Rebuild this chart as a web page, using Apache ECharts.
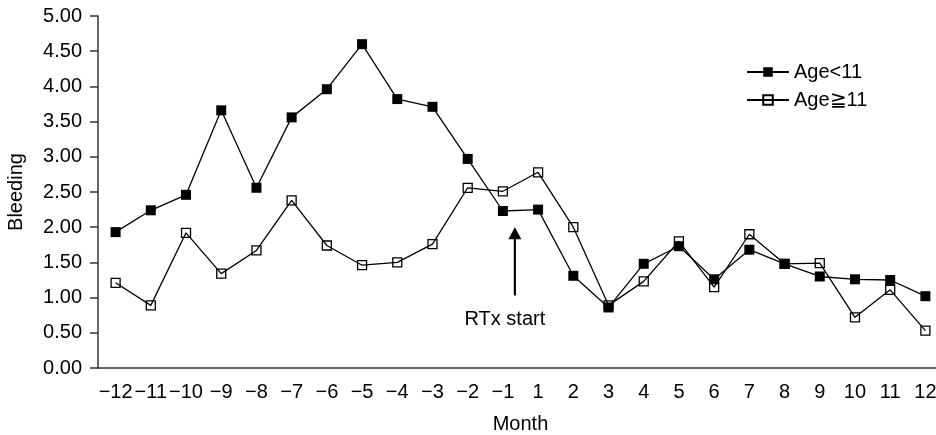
<!DOCTYPE html>
<html>
<head>
<meta charset="utf-8">
<script src="https://cdn.jsdelivr.net/npm/echarts@6/dist/echarts.min.js"></script>
<style>
    html, body {margin: 0; padding: 0; background: #fff;}
    #chart {width: 936px; height: 435px;}
</style>
</head>
<body>
<div id="chart"></div>
<script>
// 月份（治疗前 -12..-1，治疗后 1..12）
var months = ['\u221212', '\u221211', '\u221210', '\u22129', '\u22128', '\u22127', '\u22126', '\u22125', '\u22124', '\u22123', '\u22122', '\u22121',
    '1', '2', '3', '4', '5', '6', '7', '8', '9', '10', '11', '12'];
var ageUnder11 = [1.93, 2.24, 2.46, 3.66, 2.56, 3.56, 3.96, 4.60, 3.82, 3.71, 2.97, 2.23,
    2.25, 1.31, 0.86, 1.48, 1.73, 1.26, 1.68, 1.48, 1.30, 1.26, 1.25, 1.02];
var ageOver11 = [1.21, 0.89, 1.92, 1.34, 1.67, 2.38, 1.74, 1.46, 1.50, 1.76, 2.56, 2.51,
    2.78, 2.00, 0.89, 1.23, 1.80, 1.15, 1.90, 1.48, 1.49, 0.72, 1.11, 0.53];
var yTicks = [0, 5, 0.5];  // min, max, interval
var arrowFrom = 1.03, arrowTo = 2.0, arrowLabelAt = 0.69;

var fontName = 'Liberation Sans, Arial, sans-serif';
var chart = echarts.init(document.getElementById('chart'));

var option = {
    animation: false,
    textStyle: {fontFamily: fontName},
    grid: {
        left: 98,
        top: 16,
        width: 845,
        height: 352,
        outerBoundsMode: 'none'
    },
    legend: {
        left: 741,
        top: 57,
        orient: 'vertical',
        itemWidth: 42,
        itemHeight: 12,
        itemGap: 8,
        textStyle: {fontSize: 20, color: '#000', fontFamily: fontName},
        data: ['Age<11', 'Age\u226711']
    },
    xAxis: {
        type: 'category',
        data: months,
        boundaryGap: true,
        name: 'Month',
        nameLocation: 'middle',
        nameGap: 46,
        nameTextStyle: {fontSize: 20, color: '#000'},
        axisLine: {lineStyle: {color: '#333', width: 1.5}},
        axisTick: {length: 8, lineStyle: {color: '#333', width: 1.5}},
        axisLabel: {fontSize: 20, color: '#000', margin: 14, interval: 0}
    },
    yAxis: {
        type: 'value',
        min: yTicks[0],
        max: yTicks[1],
        interval: yTicks[2],
        name: 'Bleeding',
        nameLocation: 'middle',
        nameGap: 72,
        nameTextStyle: {fontSize: 20, color: '#000'},
        splitLine: {show: false},
        axisLine: {show: true, lineStyle: {color: '#333', width: 1.5}},
        axisTick: {show: true, length: 8, lineStyle: {color: '#333', width: 1.5}},
        axisLabel: {
            fontSize: 20, color: '#000', margin: 16,
            formatter: function (v) { return v.toFixed(2); }
        }
    },
    series: [{
        name: 'Age<11',
        type: 'line',
        data: ageUnder11,
        symbol: 'rect',
        symbolSize: 10,
        z: 3,
        lineStyle: {color: '#000', width: 1.3},
        itemStyle: {color: '#000', borderColor: '#000', borderWidth: 0}
    }, {
        name: 'Age\u226711',
        type: 'line',
        data: ageOver11,
        symbol: 'rect',
        symbolSize: 9,
        z: 2,
        lineStyle: {color: '#000', width: 1.3},
        itemStyle: {color: 'rgba(255,255,255,0)', borderColor: '#000', borderWidth: 1.3}
    }]
};
chart.setOption(option);

// 箭头标注 RTx start
var xa = chart.convertToPixel({xAxisIndex: 0}, '\u22121');
var xb = chart.convertToPixel({xAxisIndex: 0}, '1');
var ax = xa + (xb - xa) * 0.34;
var yBottom = chart.convertToPixel({yAxisIndex: 0}, arrowFrom);
var yTop = chart.convertToPixel({yAxisIndex: 0}, arrowTo);
var yText = chart.convertToPixel({yAxisIndex: 0}, arrowLabelAt);
chart.setOption({
    graphic: [{
        type: 'line',
        shape: {x1: ax, y1: yBottom, x2: ax, y2: yTop + 8},
        style: {stroke: '#000', lineWidth: 2.2}
    }, {
        type: 'polygon',
        shape: {points: [[ax, yTop], [ax - 6.5, yTop + 12], [ax + 6.5, yTop + 12]]},
        style: {fill: '#000'}
    }, {
        type: 'text',
        x: ax - 10,
        y: yText,
        style: {
            text: 'RTx start', fontSize: 20, fill: '#000', fontFamily: fontName,
            align: 'center', verticalAlign: 'middle'
        }
    }]
});
</script>
</body>
</html>
